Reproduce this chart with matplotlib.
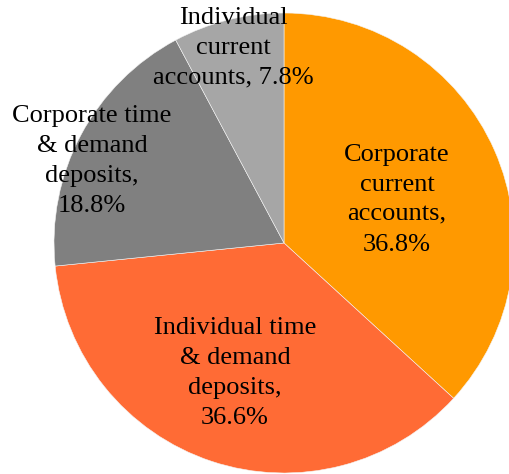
import matplotlib
matplotlib.use("Agg")
import matplotlib.pyplot as plt

categories = [
    "Corporate\ncurrent\naccounts,",
    "Individual time\n& demand\ndeposits,",
    "Corporate time\n& demand\ndeposits,",
    "Individual\ncurrent\naccounts,",
]
shares = [36.8, 36.6, 18.8, 7.8]
colors = ["#FF9900", "#FF6B35", "#808080", "#A6A6A6"]

# separator between the category name and its percentage
separators = ["\n", "\n", "\n", " "]

# label anchor points (data units, pie radius = 1)
label_xy = [(0.491, 0.188), (-0.213, -0.565), (-0.835, 0.357), (-0.222, 0.848)]

fig = plt.figure(figsize=(5.09, 4.74), dpi=100)
ax = fig.add_axes([0, 0, 1, 1])
ax.pie(shares, colors=colors, startangle=90, counterclock=False, radius=1.0,
       wedgeprops=dict(edgecolor="#F4F4F4", linewidth=0.4))
ax.set_xlim(-284 / 230, (509 - 284) / 230)
ax.set_ylim(-(474 - 243) / 230, 243 / 230)
ax.set_aspect("equal")
ax.axis("off")

for cat, val, sep, (x, y) in zip(categories, shares, separators, label_xy):
    ax.text(x, y, f"{cat}{sep}{val}%", ha="center", va="center", fontsize=19,
            family="Liberation Serif", linespacing=1.47, color="black")

fig.savefig("out.png", dpi=100)
